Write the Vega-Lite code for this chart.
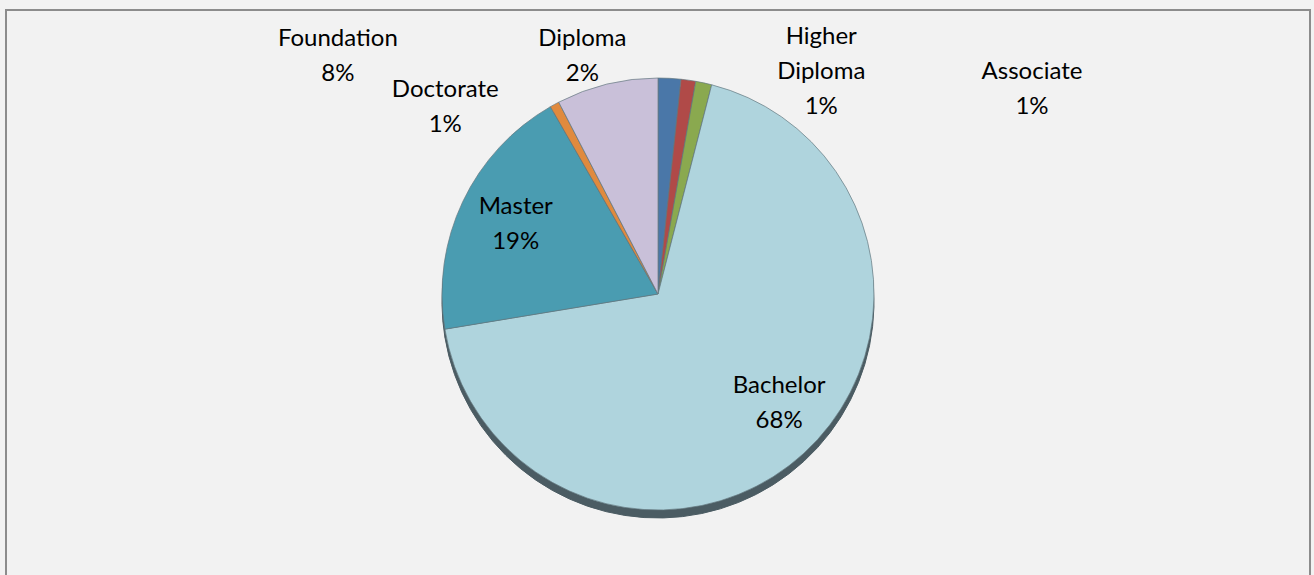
{
  "$schema": "https://vega.github.io/schema/vega-lite/v6.json",
  "width": 1314,
  "height": 575,
  "autosize": {"type": "fit", "contains": "padding"},
  "padding": {"left": 6, "top": 10, "right": 4, "bottom": -3},
  "background": "#f2f2f2",
  "view": {"stroke": "#8c8c8c", "strokeWidth": 2, "fill": "#f2f2f2"},
  "config": {
    "view": {"stroke": "#8c8c8c", "strokeWidth": 2, "fill": "#f2f2f2"},
    "text": {"font": "Lato", "fontSize": 24, "color": "#000000"}
  },
  "data": {
    "values": [
      {"idx": 1, "category": "Diploma", "share": 1.7},
      {"idx": 2, "category": "Higher Diploma", "share": 1.1},
      {"idx": 3, "category": "Associate", "share": 1.2},
      {"idx": 4, "category": "Bachelor", "share": 68.4},
      {"idx": 5, "category": "Master", "share": 19.3},
      {"idx": 6, "category": "Doctorate", "share": 0.7},
      {"idx": 7, "category": "Foundation", "share": 7.6}
    ]
  },
  "transform": [
    {"stack": "share", "groupby": [], "sort": [{"field": "idx", "order": "ascending"}], "as": ["s0", "s1"]},
    {"calculate": "(datum.s0 + datum.s1) / 2", "as": "mid"},
    {"calculate": "replace(datum.category, ' ', '\\n') + '\\n' + format(datum.share / 100, '.0%')", "as": "label"}
  ],
  "layer": [
    {
      "mark": {"type": "arc", "outerRadius": 216, "y": {"expr": "height / 2 + 8"}, "color": "#4b5c63", "stroke": "#4b5c63", "strokeWidth": 1},
      "encoding": {
        "theta": {"field": "s0", "type": "quantitative", "scale": {"domain": [0, 100]}},
        "theta2": {"field": "s1"}
      }
    },
    {
      "mark": {"type": "arc", "outerRadius": 216, "stroke": "#647980", "strokeWidth": 0.7},
      "encoding": {
        "theta": {"field": "s0", "type": "quantitative", "scale": {"domain": [0, 100]}},
        "theta2": {"field": "s1"},
        "color": {
          "field": "category",
          "type": "nominal",
          "scale": {
            "domain": ["Diploma", "Higher Diploma", "Associate", "Bachelor", "Master", "Doctorate", "Foundation"],
            "range": ["#4a77a8", "#b04a48", "#8aa94f", "#afd4dd", "#4a9cb1", "#e08a3e", "#c9c0d9"]
          },
          "legend": null
        }
      }
    },
    {
      "transform": [{"filter": "datum.category === 'Bachelor'"}],
      "mark": {"type": "text", "radius": 163, "dx": 11, "dy": -28, "lineBreak": "\n", "lineHeight": 35, "align": "center", "baseline": "middle"},
      "encoding": {
        "theta": {"field": "mid", "type": "quantitative", "scale": {"domain": [0, 100]}},
        "text": {"field": "label"}
      }
    },
    {
      "transform": [{"filter": "datum.category === 'Master'"}],
      "mark": {"type": "text", "radius": 163, "dx": 5, "dy": -17, "lineBreak": "\n", "lineHeight": 35, "align": "center", "baseline": "middle"},
      "encoding": {
        "theta": {"field": "mid", "type": "quantitative", "scale": {"domain": [0, 100]}},
        "text": {"field": "label"}
      }
    },
    {
      "transform": [{"filter": "datum.category === 'Diploma'"}],
      "mark": {"type": "text", "radius": 250, "dx": -89, "dy": -5, "lineBreak": "\n", "lineHeight": 35, "align": "center", "baseline": "middle"},
      "encoding": {
        "theta": {"field": "mid", "type": "quantitative", "scale": {"domain": [0, 100]}},
        "text": {"field": "label"}
      }
    },
    {
      "transform": [{"filter": "datum.category === 'Higher Diploma'"}],
      "mark": {"type": "text", "radius": 250, "dx": 128, "dy": -9, "lineBreak": "\n", "lineHeight": 35, "align": "center", "baseline": "middle"},
      "encoding": {
        "theta": {"field": "mid", "type": "quantitative", "scale": {"domain": [0, 100]}},
        "text": {"field": "label"}
      }
    },
    {
      "transform": [{"filter": "datum.category === 'Associate'"}],
      "mark": {"type": "text", "radius": 250, "dx": 321, "dy": 22, "lineBreak": "\n", "lineHeight": 35, "align": "center", "baseline": "middle"},
      "encoding": {
        "theta": {"field": "mid", "type": "quantitative", "scale": {"domain": [0, 100]}},
        "text": {"field": "label"}
      }
    },
    {
      "transform": [{"filter": "datum.category === 'Doctorate'"}],
      "mark": {"type": "text", "radius": 250, "dx": -93, "dy": 15, "lineBreak": "\n", "lineHeight": 35, "align": "center", "baseline": "middle"},
      "encoding": {
        "theta": {"field": "mid", "type": "quantitative", "scale": {"domain": [0, 100]}},
        "text": {"field": "label"}
      }
    },
    {
      "transform": [{"filter": "datum.category === 'Foundation'"}],
      "mark": {"type": "text", "radius": 250, "dx": -261, "dy": -12, "lineBreak": "\n", "lineHeight": 35, "align": "center", "baseline": "middle"},
      "encoding": {
        "theta": {"field": "mid", "type": "quantitative", "scale": {"domain": [0, 100]}},
        "text": {"field": "label"}
      }
    }
  ]
}
